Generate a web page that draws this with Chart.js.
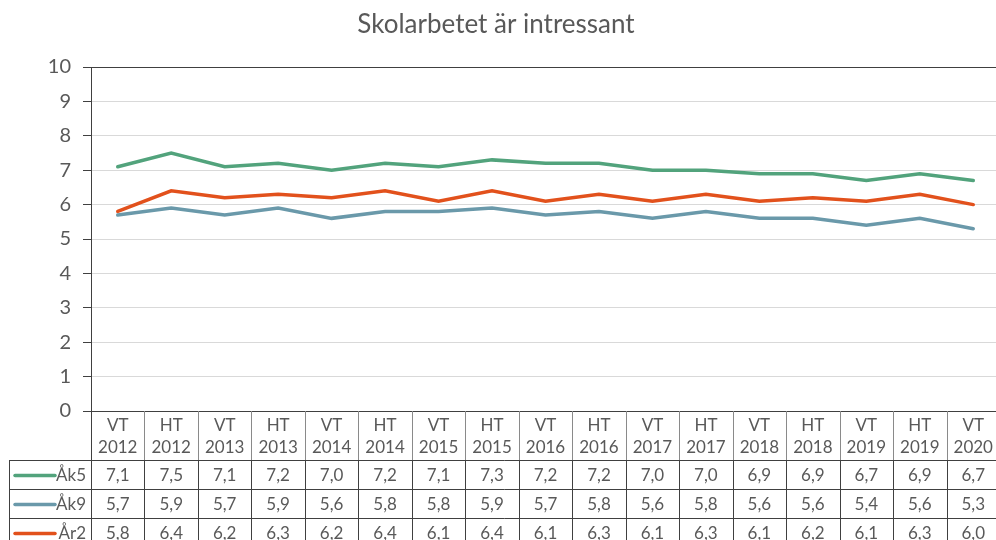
<!DOCTYPE html>
<html>
<head>
<meta charset="utf-8">
<script src="https://cdn.jsdelivr.net/npm/chart.js@4"></script>
<style>
  html, body { margin: 0; padding: 0; background: #fff; overflow: hidden; }
  #wrap { width: 1004px; height: 540px; }
</style>
</head>
<body>
<div id="wrap"><canvas id="chart" width="1004" height="540"></canvas></div>
<script>
// Data
const terms = ['VT', 'HT', 'VT', 'HT', 'VT', 'HT', 'VT', 'HT', 'VT', 'HT', 'VT', 'HT', 'VT', 'HT', 'VT', 'HT', 'VT'];
const years = ['2012', '2012', '2013', '2013', '2014', '2014', '2015', '2015', '2016', '2016', '2017', '2017', '2018', '2018', '2019', '2019', '2020'];
const ak5 = [7.1, 7.5, 7.1, 7.2, 7.0, 7.2, 7.1, 7.3, 7.2, 7.2, 7.0, 7.0, 6.9, 6.9, 6.7, 6.9, 6.7];
const ak9 = [5.7, 5.9, 5.7, 5.9, 5.6, 5.8, 5.8, 5.9, 5.7, 5.8, 5.6, 5.8, 5.6, 5.6, 5.4, 5.6, 5.3];
const ar2 = [5.8, 6.4, 6.2, 6.3, 6.2, 6.4, 6.1, 6.4, 6.1, 6.3, 6.1, 6.3, 6.1, 6.2, 6.1, 6.3, 6.0];
const seriesNames = ['Åk5', 'Åk9', 'År2'];
const seriesColors = ['#52a37c', '#6a99aa', '#e2511c'];
const titleText = 'Skolarbetet är intressant';

const FONT = 'Lato, "Liberation Sans", sans-serif';
const TEXT = '#595959';

// Title + data table below the plot
const tablePlugin = {
  id: 'dataTable',
  afterDraw(chart) {
    const ctx = chart.ctx;
    const area = chart.chartArea;
    const x = chart.scales.x;
    const half = (area.right - area.left) / terms.length / 2;
    const top = area.bottom;
    const headBottom = top + 49;
    const rowH = 29;
    const tableBottom = headBottom + rowH * 3;

    ctx.save();
    // title
    ctx.fillStyle = TEXT;
    ctx.font = '26px ' + FONT;
    ctx.textAlign = 'center';
    ctx.textBaseline = 'middle';
    ctx.fillText(titleText, 496, 25);

    // header labels
    ctx.font = '17px ' + FONT;
    terms.forEach((t, i) => {
      const cx = x.getPixelForValue(i);
      ctx.fillText(t, cx, top + 15);
      ctx.fillText(years[i], cx, top + 37);
    });

    // vertical separators
    ctx.lineWidth = 1;
    for (let i = 1; i <= terms.length; i++) {
      const lx = Math.round(x.getPixelForValue(i) - half) + 0.5;
      ctx.strokeStyle = '#8a8a8a';
      ctx.beginPath(); ctx.moveTo(lx, top); ctx.lineTo(lx, headBottom); ctx.stroke();
      ctx.strokeStyle = '#404040';
      ctx.beginPath(); ctx.moveTo(lx, headBottom); ctx.lineTo(lx, tableBottom); ctx.stroke();
    }
    // left axis line continues down
    const ax = Math.round(area.left) + 0.5;
    ctx.strokeStyle = '#404040';
    ctx.beginPath(); ctx.moveTo(ax, top); ctx.lineTo(ax, tableBottom); ctx.stroke();
    // outer left border of rows
    ctx.beginPath(); ctx.moveTo(9.5, headBottom); ctx.lineTo(9.5, tableBottom); ctx.stroke();
    // horizontal lines
    for (let r = 0; r <= 3; r++) {
      const ly = Math.round(headBottom + r * rowH) + 0.5;
      ctx.beginPath(); ctx.moveTo(9.5, ly); ctx.lineTo(area.right, ly); ctx.stroke();
    }

    // rows
    chart.data.datasets.forEach((ds, r) => {
      const cy = headBottom + r * rowH + rowH / 2 + 1;
      ctx.strokeStyle = seriesColors[r];
      ctx.lineWidth = 3.5;
      ctx.lineCap = 'round';
      ctx.beginPath(); ctx.moveTo(15, cy); ctx.lineTo(55, cy); ctx.stroke();
      ctx.fillStyle = TEXT;
      ctx.textAlign = 'right';
      ctx.fillText(seriesNames[r], 86, cy);
      ctx.textAlign = 'center';
      ds.data.forEach((v, i) => {
        ctx.fillText(v.toFixed(1).replace('.', ','), x.getPixelForValue(i), cy);
      });
    });
    ctx.restore();
  }
};

const labels = terms.map((t, i) => t + ' ' + years[i]);

new Chart(document.getElementById('chart'), {
  type: 'line',
  data: {
    labels: labels,
    datasets: [ak5, ak9, ar2].map((d, i) => ({
      label: seriesNames[i],
      data: d,
      borderColor: seriesColors[i],
      backgroundColor: seriesColors[i],
      borderWidth: 3.5,
      pointRadius: 0,
      tension: 0,
      borderCapStyle: 'round'
    }))
  },
  options: {
    responsive: false,
    animation: false,
    layout: { padding: { top: 67, bottom: 129, left: 0, right: 4 } },
    plugins: {
      legend: { display: false },
      title: { display: false },
      tooltip: { enabled: false }
    },
    scales: {
      x: {
        offset: true,
        grid: { display: false, drawTicks: false },
        border: { display: false },
        ticks: { display: false },
        afterFit: s => { s.height = 0; }
      },
      y: {
        min: 0,
        max: 10,
        ticks: {
          stepSize: 1,
          color: TEXT,
          padding: 12,
          font: { family: FONT, size: 20 }
        },
        grid: {
          tickLength: 8,
          color: c => (c.tick && (c.tick.value === 10 || c.tick.value === 0)) ? '#404040' : '#d9d9d9',
          tickColor: '#404040'
        },
        border: { color: '#404040' },
        afterFit: s => { s.width = 91; }
      }
    }
  },
  plugins: [tablePlugin]
});
</script>
</body>
</html>
